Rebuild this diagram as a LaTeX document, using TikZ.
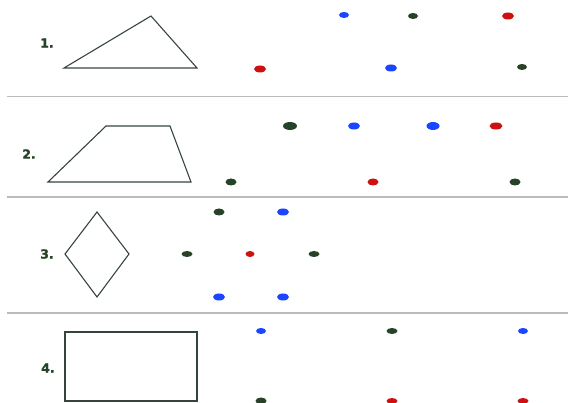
\documentclass[tikz,border=0pt]{standalone}
\usepackage{fontspec}
\setmainfont{DejaVu Sans}
\newfontfamily\labelfont[UprightFont={* Bold}, FakeBold=1.6]{DejaVu Sans}
\usetikzlibrary{shapes.geometric}
\definecolor{dgreen}{HTML}{274327}
\definecolor{dblue}{HTML}{1B45FF}
\definecolor{dred}{HTML}{CC1111}
\definecolor{shapeline}{HTML}{34463A}
\definecolor{sepgray}{HTML}{BBBBBB}
\tikzset{
  dot/.style={ellipse, inner sep=0pt, minimum width=10pt, minimum height=6pt},
  big/.style={minimum width=13pt, minimum height=8pt},
  gdot/.style={dot, fill=dgreen},
  bdot/.style={dot, fill=dblue},
  rdot/.style={dot, fill=dred},
  figline/.style={draw=shapeline, line width=1.1pt, line join=miter},
  sepline/.style={draw=sepgray, line width=1.2pt},
  numlabel/.style={text=dgreen, font=\labelfont\fontsize{12.5}{14}\selectfont, inner sep=0pt}
}
\begin{document}
\begin{tikzpicture}[x=1pt,y=-1pt]
\useasboundingbox (0,0) rectangle (568,403);
% separators
\draw[sepline] (7,96.5) -- (568,96.5);
\draw[sepline] (7,197) -- (568,197);
\draw[sepline] (7,313) -- (568,313);
% row 1
\node[numlabel] (l1) at (47,43) {1.};
\draw[figline] (64,68) -- (151,16) -- (197,68) -- cycle;
\node[bdot] (d11) at (344,15) {};
\node[gdot] (d12) at (413,16) {};
\node[rdot,big,minimum width=12pt,minimum height=7pt] (d13) at (508,16) {};
\node[rdot,big,minimum width=12pt,minimum height=7pt] (d14) at (260,69) {};
\node[bdot,big,minimum width=12pt,minimum height=7pt] (d15) at (391,68) {};
\node[gdot] (d16) at (522,67) {};
% row 2
\node[numlabel] (l2) at (29,154) {2.};
\draw[figline] (48,182) -- (106,126) -- (170,126) -- (191,182) -- cycle;
\node[gdot,big,minimum width=14pt] (d21) at (290,126) {};
\node[bdot,big,minimum width=12pt,minimum height=7pt] (d22) at (354,126) {};
\node[bdot,big] (d23) at (433,126) {};
\node[rdot,big,minimum width=13pt,minimum height=7pt] (d24) at (496,126) {};
\node[gdot,minimum width=11pt,minimum height=7pt] (d25) at (231,182) {};
\node[rdot,minimum width=11pt,minimum height=7pt] (d26) at (373,182) {};
\node[gdot,minimum width=11pt,minimum height=7pt] (d27) at (515,182) {};
% row 3
\node[numlabel] (l3) at (47,254) {3.};
\draw[figline] (97,212) -- (129,254) -- (97,297) -- (65,254) -- cycle;
\node[gdot,minimum width=11pt,minimum height=7pt] (d31) at (219,212) {};
\node[bdot,big,minimum width=12pt,minimum height=7pt] (d32) at (283,212) {};
\node[gdot,minimum width=11pt,minimum height=6pt] (d33) at (187,254) {};
\node[rdot,minimum width=9pt,minimum height=6pt] (d34) at (250,254) {};
\node[gdot,minimum width=11pt,minimum height=6pt] (d35) at (314,254) {};
\node[bdot,minimum width=12pt,minimum height=7pt] (d36) at (219,297) {};
\node[bdot,minimum width=12pt,minimum height=7pt] (d37) at (283,297) {};
% row 4
\node[numlabel] (l4) at (48,368) {4.};
\draw[figline] (65,332) rectangle (197,401);
\node[bdot] (d41) at (261,331) {};
\node[gdot,minimum width=11pt] (d42) at (392,331) {};
\node[bdot] (d43) at (523,331) {};
\node[gdot,minimum width=11pt,minimum height=7pt] (d44) at (261,401) {};
\node[rdot,minimum width=11pt] (d45) at (392,401) {};
\node[rdot,minimum width=11pt] (d46) at (523,401) {};
\end{tikzpicture}
\end{document}
